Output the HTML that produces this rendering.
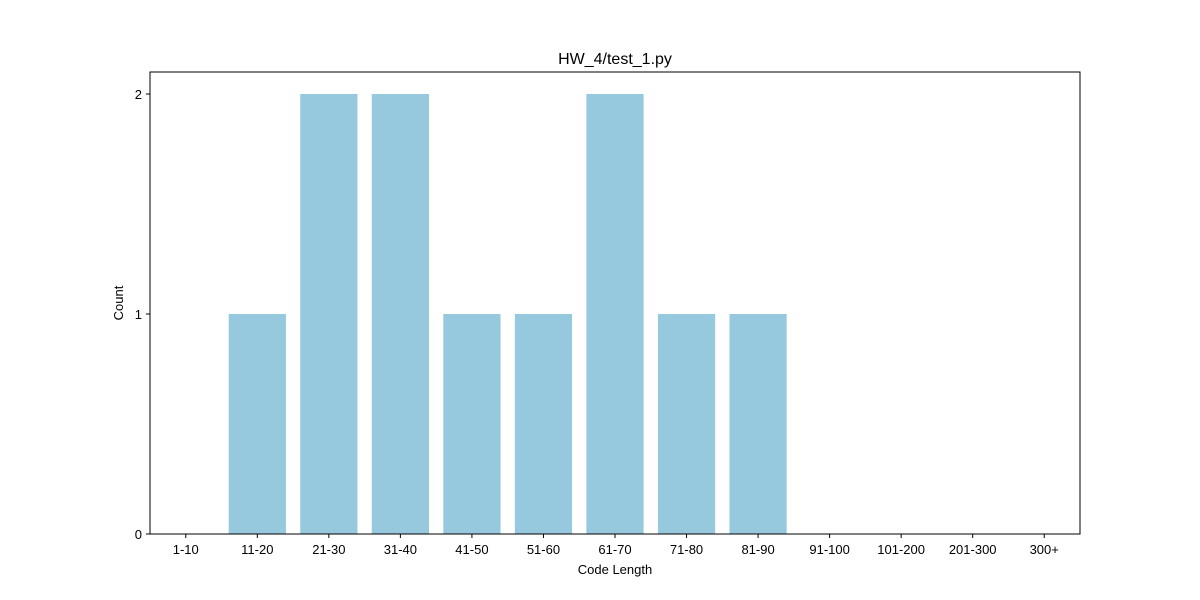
<!DOCTYPE html>
<html><head><meta charset="utf-8"><style>
body{margin:0;background:#fff;}
svg{display:block;font-family:"Liberation Sans","DejaVu Sans",sans-serif;}
</style></head><body>
<svg id="chart" width="1200" height="600">
<rect width="1200" height="600" fill="#fff"/>
<text x="615" y="64" text-anchor="middle" font-size="16">HW_4/test_1.py</text>
<g id="bars"></g>
<rect x="150" y="72" width="930" height="462" fill="none" stroke="#000" stroke-width="1"/>
<g id="xticks"></g><g id="yticks"></g>
<text x="615" y="574" text-anchor="middle" font-size="13">Code Length</text>
<text transform="translate(123,303) rotate(-90)" text-anchor="middle" font-size="13">Count</text>
</svg>
<script>
const categories=["1-10","11-20","21-30","31-40","41-50","51-60","61-70","71-80","81-90","91-100","101-200","201-300","300+"];
const counts=[0,1,2,2,1,1,2,1,1,0,0,0,0];
const yTicks=[0,1,2];
const L=150,R=1080,T=72,B=534,yMax=2.1;
const xs=i=>L+(i+0.5)*(R-L)/categories.length;
const ys=v=>B-v*(B-T)/yMax;
const bw=0.8*(R-L)/categories.length;
const NS="http://www.w3.org/2000/svg";
const bars=document.getElementById('bars'),xt=document.getElementById('xticks'),yt=document.getElementById('yticks');
categories.forEach((c,i)=>{
 const r=document.createElementNS(NS,'rect');
 r.setAttribute('x',xs(i)-bw/2);r.setAttribute('y',ys(counts[i]));
 r.setAttribute('width',bw);r.setAttribute('height',B-ys(counts[i]));
 r.setAttribute('fill','#96c9dd');
 
 
 bars.appendChild(r);
 const l=document.createElementNS(NS,'line');
 l.setAttribute('x1',xs(i));l.setAttribute('x2',xs(i));l.setAttribute('y1',B);l.setAttribute('y2',B+4);l.setAttribute('stroke','#000');
 
 
 xt.appendChild(l);
 const t=document.createElementNS(NS,'text');
 t.setAttribute('x',xs(i));t.setAttribute('y',B+20);t.setAttribute('text-anchor','middle');t.setAttribute('font-size','13');
 t.textContent=c;
 
 
 xt.appendChild(t);
});
yTicks.forEach(v=>{
 const l=document.createElementNS(NS,'line');
 l.setAttribute('x1',L-4);l.setAttribute('x2',L);l.setAttribute('y1',ys(v));l.setAttribute('y2',ys(v));l.setAttribute('stroke','#000');
 
 
 yt.appendChild(l);
 const t=document.createElementNS(NS,'text');
 t.setAttribute('x',L-8);t.setAttribute('y',ys(v)+5);t.setAttribute('text-anchor','end');t.setAttribute('font-size','13');
 t.textContent=v;
 
 
 yt.appendChild(t);
});
</script>
</body></html>
